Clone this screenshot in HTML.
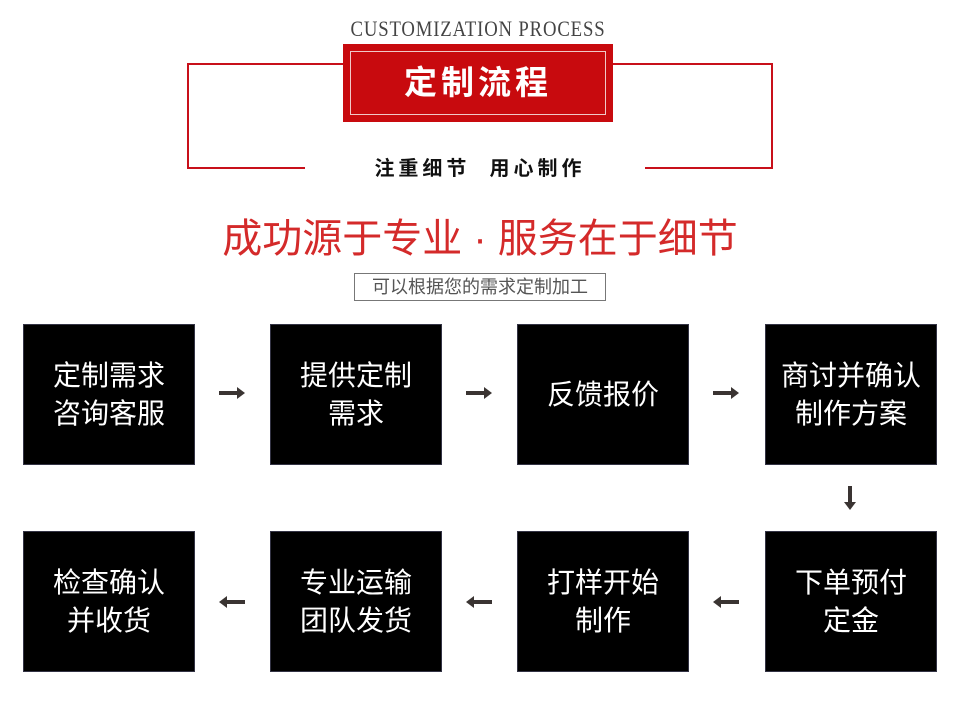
<!DOCTYPE html>
<html><head><meta charset="utf-8"><style>
body{margin:0;width:960px;height:702px;background:#fff;position:relative;overflow:hidden;font-family:"Liberation Sans","Noto Sans CJK SC",sans-serif}
.a{position:absolute}
.box{position:absolute;box-sizing:border-box;width:172px;height:141px;background:#000;color:#fff;font-size:28px;line-height:38px;display:flex;align-items:center;justify-content:center;text-align:center;border:1px solid #334}
</style></head><body>
<div class="a" style="left:313px;top:16px;width:330px;text-align:center;font-family:'Liberation Serif',serif;font-size:22px;color:#444;transform:scaleX(0.85);letter-spacing:1px;white-space:nowrap">CUSTOMIZATION PROCESS</div>
<div class="a" style="left:187px;top:63px;width:156px;height:2px;background:#c8101a"></div>
<div class="a" style="left:187px;top:63px;width:2px;height:106px;background:#c8101a"></div>
<div class="a" style="left:187px;top:167px;width:118px;height:2px;background:#c8101a"></div>
<div class="a" style="left:613px;top:63px;width:160px;height:2px;background:#c8101a"></div>
<div class="a" style="left:771px;top:63px;width:2px;height:106px;background:#c8101a"></div>
<div class="a" style="left:645px;top:167px;width:128px;height:2px;background:#c8101a"></div>
<div class="a" style="left:343px;top:44px;width:270px;height:78px;background:#c80a0e"></div>
<div class="a" style="left:350px;top:51px;width:254px;height:62px;border:1px solid #f0c8c8;color:#fff;font-size:33px;font-weight:bold;text-align:center;line-height:62px;letter-spacing:4px">定制流程</div>
<div class="a" style="left:350px;top:152px;width:260px;text-align:center;font-size:20px;font-weight:bold;color:#111;letter-spacing:4px;white-space:nowrap">注重细节&nbsp; 用心制作</div>
<div class="a" style="left:180px;top:206px;width:600px;text-align:center;font-size:40px;color:#d42a2a;white-space:nowrap">成功源于专业 · 服务在于细节</div>
<div class="a" style="left:354px;top:273px;width:250px;height:26px;border:1px solid #777;text-align:center;font-size:18px;line-height:26px;color:#555">可以根据您的需求定制加工</div>

<div class="box" style="left:23px;top:324px">定制需求<br>咨询客服</div>
<div class="box" style="left:270px;top:324px">提供定制<br>需求</div>
<div class="box" style="left:517px;top:324px">反馈报价</div>
<div class="box" style="left:765px;top:324px">商讨并确认<br>制作方案</div>
<div class="box" style="left:23px;top:531px">检查确认<br>并收货</div>
<div class="box" style="left:270px;top:531px">专业运输<br>团队发货</div>
<div class="box" style="left:517px;top:531px">打样开始<br>制作</div>
<div class="box" style="left:765px;top:531px">下单预付<br>定金</div>

<svg class="a" style="left:0;top:0" width="960" height="702">
<g fill="#3a3432">
<path d="M219 391h18v-4l8 6-8 6v-4h-18z"/>
<path d="M466 391h18v-4l8 6-8 6v-4h-18z"/>
<path d="M713 391h18v-4l8 6-8 6v-4h-18z"/>
<path d="M848 486v16h-4l6 8 6-8h-4v-16z"/>
<path d="M245 600h-18v-4l-8 6 8 6v-4h18z"/>
<path d="M492 600h-18v-4l-8 6 8 6v-4h18z"/>
<path d="M739 600h-18v-4l-8 6 8 6v-4h18z"/>
</g></svg>
</body></html>
